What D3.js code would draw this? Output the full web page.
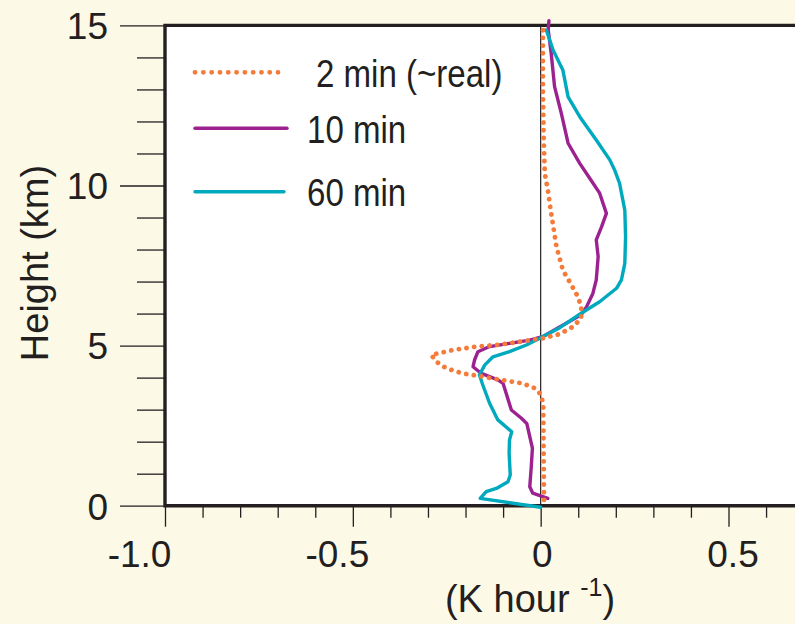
<!DOCTYPE html>
<html><head><meta charset="utf-8">
<script src="https://cdn.jsdelivr.net/npm/d3@7"></script>
<style>html,body{margin:0;padding:0;background:#fdf9e7;overflow:hidden}</style>
</head><body><svg id="c" width="795" height="624"></svg>
<script>
// ---- data: [value (K/hour), height (km)] ----
const series2min = [[0.009,0.18],[0.008,1.5],[0.007,3.09],[0.002,3.46],[-0.016,3.67],[-0.047,3.82],[-0.091,3.90],[-0.154,4.03],[-0.207,4.13],[-0.251,4.29],[-0.278,4.50],[-0.291,4.71],[-0.234,4.86],[-0.171,4.97],[-0.118,5.02],[-0.056,5.12],[0.006,5.23],[0.051,5.36],[0.086,5.59],[0.108,5.85],[0.108,6.21],[0.099,6.53],[0.082,6.89],[0.059,7.36],[0.042,8.09],[0.028,9.13],[0.019,9.86],[0.011,10.38],[0.008,11.5],[0.006,13.0],[0.006,14.95]];
const series10min = [[0.019,0.23],[-0.021,0.39],[-0.029,0.59],[-0.025,1.22],[-0.022,1.8],[-0.037,2.57],[-0.052,2.74],[-0.078,2.99],[-0.100,3.82],[-0.114,3.93],[-0.158,4.13],[-0.180,4.34],[-0.176,4.55],[-0.167,4.81],[-0.136,4.97],[-0.083,5.07],[-0.029,5.17],[0.005,5.28],[0.068,5.70],[0.108,5.96],[0.122,6.21],[0.139,6.63],[0.148,7.05],[0.153,7.78],[0.148,8.30],[0.162,8.71],[0.175,9.13],[0.157,9.76],[0.131,10.22],[0.104,10.69],[0.073,11.32],[0.055,12.25],[0.037,13.09],[0.028,14.13],[0.020,14.86],[0.022,15.15]];
const series60min = [[0.0,-0.05],[-0.161,0.23],[-0.145,0.44],[-0.118,0.54],[-0.087,0.75],[-0.081,0.96],[-0.084,1.64],[-0.083,2.05],[-0.077,2.31],[-0.114,2.68],[-0.136,3.2],[-0.154,3.77],[-0.163,4.08],[-0.149,4.39],[-0.127,4.65],[-0.083,4.81],[-0.038,5.02],[0.006,5.28],[0.051,5.56],[0.108,6.01],[0.157,6.37],[0.202,6.79],[0.215,7.05],[0.224,7.57],[0.226,8.40],[0.224,9.23],[0.210,10.07],[0.197,10.48],[0.184,10.80],[0.148,11.42],[0.104,12.15],[0.073,12.77],[0.059,13.61],[0.033,14.23],[0.015,14.86]];
const seriesNames = ["2 min (~real)","10 min","60 min"];

const xMajorTicks = [-1.0,-0.5,0,0.5];
const xMajorLabels = ["-1.0","-0.5","0","0.5"];
const xMinorTicks = [-0.9,-0.8,-0.7,-0.6,-0.4,-0.3,-0.2,-0.1,0.1,0.2,0.3,0.4,0.6];
const yMajorTicks = [0,5,10,15];
const yMajorLabels = ["0","5","10","15"];
const yMinorTicks = [1,2,3,4,6,7,8,9,11,12,13,14];

// ---- layout ----
const svg = d3.select("#c");
const ink = "#231f20";
const colors = ["#f47b3a","#9b2290","#00a9bd"];
const FONT = "'Liberation Sans', Arial, Helvetica, sans-serif";

const x = d3.scaleLinear().domain([-1.0,0.5]).range([165,728.5]);
const y = d3.scaleLinear().domain([0,15]).range([505.7,25.4]);
const xMax = x.invert(800);

svg.append("rect").attr("width",795).attr("height",624).attr("fill","#fdf9e7");
svg.append("rect").attr("x",x(-1)).attr("y",y(15)).attr("width",x(xMax)-x(-1)).attr("height",y(0)-y(15)).attr("fill","#fff");

// zero line
svg.append("line").attr("x1",x(0)).attr("x2",x(0)).attr("y1",y(15)).attr("y2",y(0)).attr("stroke",ink).attr("stroke-width",1.2);

// axes
function styleAxis(g){ g.select(".domain").remove(); g.selectAll("line").attr("stroke",ink).attr("stroke-width",1.3);
  g.selectAll("text").attr("font-family",FONT).attr("font-size",37).attr("fill",ink); }

const xOffsets = {"-1.0":-26,"-0.5":-16,"0":1,"0.5":4};
svg.append("g").attr("transform",`translate(0,${y(0)})`)
  .call(d3.axisBottom(x).tickValues(xMinorTicks).tickSize(12).tickFormat(""))
  .call(styleAxis);
svg.append("g").attr("transform",`translate(0,${y(0)})`)
  .call(d3.axisBottom(x).tickValues(xMajorTicks).tickSize(21).tickPadding(14).tickFormat((d,i)=>xMajorLabels[i]))
  .call(styleAxis)
  .call(g=>g.selectAll("text").attr("dx",function(){return xOffsets[this.textContent]||0;}));

svg.append("g").attr("transform",`translate(${x(-1)},0)`)
  .call(d3.axisLeft(y).tickValues(yMinorTicks).tickSize(28).tickFormat(""))
  .call(styleAxis);
svg.append("g").attr("transform",`translate(${x(-1)},0)`)
  .call(d3.axisLeft(y).tickValues(yMajorTicks).tickSize(45).tickPadding(12).tickFormat((d,i)=>yMajorLabels[i]))
  .call(styleAxis)
  .call(g=>g.selectAll("text").attr("dy","0.36em"));

// frame
svg.append("path").attr("d",`M${x(xMax)},${y(15)}H${x(-1)}V${y(0)}H${x(xMax)}`)
  .attr("fill","none").attr("stroke",ink).attr("stroke-width",3.4).attr("stroke-linejoin","miter");

// curves
const line = d3.line().x(d=>x(d[0])).y(d=>y(d[1]));
const order = [1,2,0];
const allSeries = [series2min, series10min, series60min];
order.forEach(i=>{
  const p = svg.append("path").attr("d",line(allSeries[i])).attr("fill","none").attr("stroke",colors[i])
    .attr("stroke-linejoin","round");
  if(i===0) p.attr("stroke-width",4.8).attr("stroke-dasharray","0.1 7.6").attr("stroke-linecap","round");
  else p.attr("stroke-width",3.4).attr("stroke-linecap","round");
});

// legend
const legendY = [72.3,128.3,191.7];
const legendX2 = [278,287,284];
const legendTextX = [316,307,307];
seriesNames.forEach((name,i)=>{
  const l = svg.append("line").attr("x1",195).attr("x2",legendX2[i]).attr("y1",legendY[i]).attr("y2",legendY[i])
    .attr("stroke",colors[i]).attr("stroke-linecap","round");
  if(i===0) l.attr("stroke-width",4.8).attr("stroke-dasharray","0.1 8.2");
  else l.attr("stroke-width",3.4);
  svg.append("text").attr("transform",`translate(${legendTextX[i]},${legendY[i]+14.5}) scale(0.87,1)`)
    .attr("font-family",FONT).attr("font-size",38).attr("fill",ink).text(name);
});

// axis titles
svg.append("text").attr("transform","translate(48,263) rotate(-90)").attr("text-anchor","middle")
  .attr("font-family",FONT).attr("font-size",38).attr("fill",ink).text("Height (km)");
const xt = svg.append("text").attr("x",530).attr("y",612).attr("text-anchor","middle")
  .attr("font-family",FONT).attr("font-size",38).attr("fill",ink);
xt.append("tspan").text("(K hour ");
xt.append("tspan").attr("font-size",25).attr("dy",-16).text("-1");
xt.append("tspan").attr("dy",16).text(")");
</script></body></html>
